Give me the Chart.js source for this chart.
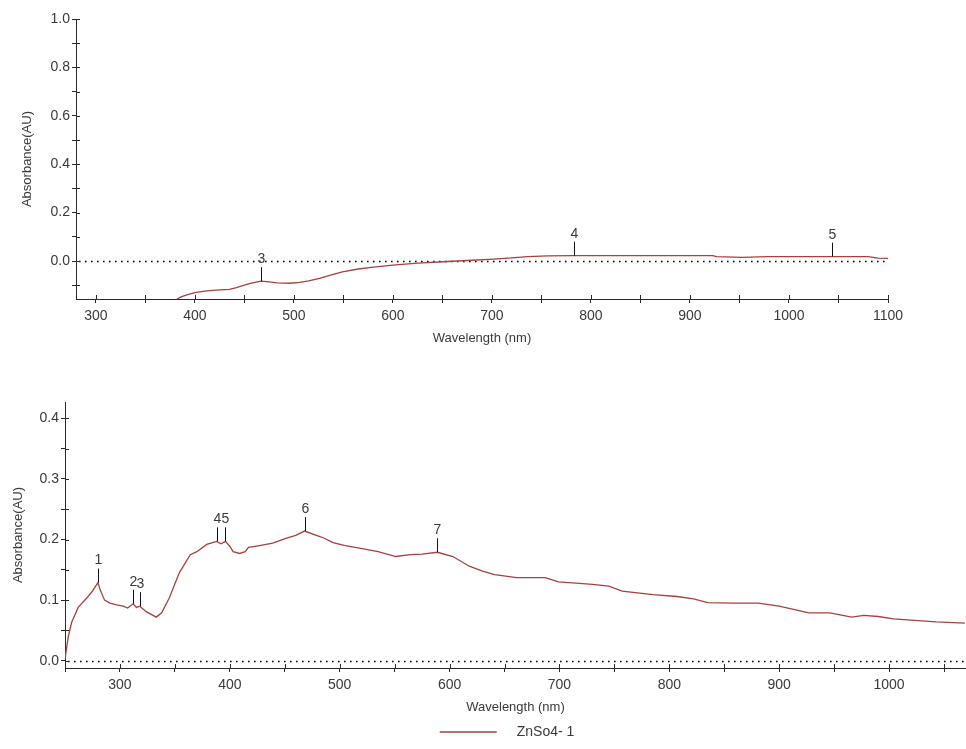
<!DOCTYPE html>
<html>
<head>
<meta charset="utf-8">
<script src="https://cdn.jsdelivr.net/npm/chart.js@4/dist/chart.umd.min.js"></script>
<style>
  html, body { margin: 0; padding: 0; background: #fff; }
  body { width: 966px; height: 749px; position: relative; overflow: hidden; }
  canvas { position: absolute; left: 0; }
  #top { top: 0; }
  #bottom { top: 360px; }
</style>
</head>
<body>
<canvas id="top" width="966" height="350"></canvas>
<canvas id="bottom" width="966" height="389"></canvas>
<script>
// upper spectrum (280-1100 nm)
const topNm = [382, 386, 392, 400, 412, 425, 435, 442, 450, 456, 462, 467, 475, 483, 496, 506, 515, 526, 537, 549,
  565, 580, 600, 625, 651, 675, 702, 720, 736, 757, 783, 820, 870, 923, 927, 953, 978, 1010, 1043, 1080, 1090, 1100];
const topAbs = [-0.157, -0.148, -0.14, -0.131, -0.123, -0.119, -0.117, -0.11, -0.1, -0.092, -0.087, -0.083, -0.086, -0.09, -0.092, -0.088, -0.082, -0.072, -0.058, -0.045,
  -0.033, -0.025, -0.017, -0.009, -0.003, 0.002, 0.008, 0.013, 0.018, 0.021, 0.022, 0.022, 0.022, 0.022, 0.018, 0.015, 0.018, 0.018, 0.018, 0.018, 0.012, 0.011];
const topPeakNm = [467, 783, 1043];
const topPeakAbs = [-0.083, 0.022, 0.018];
const topPeakLabels = ["3", "4", "5"];

// lower spectrum, ZnSo4- 1
const botNm = [250, 253, 256, 262, 270, 275, 280, 282, 286, 291, 297, 303, 307, 312, 315, 318, 324, 333, 338, 345,
  354, 364, 370, 379, 388, 392, 396, 400, 403, 409, 414, 417, 427, 439, 451, 460, 468, 482, 485, 494,
  505, 518, 535, 551, 564, 575, 589, 603, 618, 630, 641, 661, 687, 699, 715, 730, 745, 757, 771, 785,
  807, 822, 835, 860, 881, 900, 927, 946, 966, 977, 990, 1004, 1020, 1043, 1069];
const botAbs = [0.003, 0.04, 0.063, 0.088, 0.104, 0.115, 0.129, 0.117, 0.1, 0.095, 0.092, 0.09, 0.087, 0.094, 0.088, 0.09, 0.081, 0.072, 0.079, 0.104,
  0.145, 0.175, 0.18, 0.192, 0.197, 0.193, 0.197, 0.189, 0.18, 0.177, 0.18, 0.187, 0.19, 0.194, 0.202, 0.207, 0.214, 0.205, 0.203, 0.195,
  0.19, 0.186, 0.18, 0.172, 0.175, 0.176, 0.179, 0.172, 0.156, 0.148, 0.142, 0.137, 0.137, 0.13, 0.128, 0.126, 0.123, 0.115, 0.112, 0.109,
  0.106, 0.102, 0.096, 0.095, 0.095, 0.09, 0.079, 0.079, 0.072, 0.075, 0.073, 0.069, 0.067, 0.064, 0.062];
const botPeakNm = [280, 312, 318, 388, 396, 468, 589];
const botPeakAbs = [0.129, 0.094, 0.09, 0.197, 0.197, 0.214, 0.179];
const botPeakLabels = ["1", "2", "3", "4", "5", "6", "7"];

const seriesName = "ZnSo4- 1";
const xTitle = "Wavelength (nm)";
const yTitle = "Absorbance(AU)";

const lineColor = "#a8403f";
const axisColor = "#2b2b2b";
const textColor = "#3a3a3a";
const fontFamily = "'Liberation Sans', Arial, sans-serif";

Chart.defaults.font.family = fontFamily;
Chart.defaults.font.size = 14;
Chart.defaults.color = textColor;

// tick marks also poke into the plot area, like the instrument software draws them
const innerTicks = {
    id: "innerTicks",
    afterDraw(chart) {
        const ctx = chart.ctx, a = chart.chartArea;
        const xs = chart.scales.x, ys = chart.scales.y;
        ctx.save();
        ctx.strokeStyle = axisColor;
        ctx.lineWidth = 1;
        ctx.beginPath();
        xs.ticks.forEach(t => {
            let px = Math.round(xs.getPixelForValue(t.value)) + 0.5;
            ctx.moveTo(px, a.bottom);
            ctx.lineTo(px, a.bottom - 4);
        });
        ys.ticks.forEach(t => {
            let py = Math.round(ys.getPixelForValue(t.value)) + 0.5;
            ctx.moveTo(a.left, py);
            ctx.lineTo(a.left + 4, py);
        });
        ctx.stroke();
        ctx.restore();
    }
};

// dotted baseline at 0 AU
const zeroLine = {
    id: "zeroLine",
    beforeDatasetsDraw(chart) {
        const ctx = chart.ctx, a = chart.chartArea;
        let y0 = Math.round(chart.scales.y.getPixelForValue(0)) + 0.5;
        ctx.save();
        ctx.strokeStyle = "#000";
        ctx.lineWidth = 1.6;
        ctx.setLineDash([1.6, 4.4]);
        ctx.beginPath();
        ctx.moveTo(a.left + 3, y0);
        ctx.lineTo(a.right, y0);
        ctx.stroke();
        ctx.restore();
    }
};

// numbered peak markers
const peakMarks = {
    id: "peakMarks",
    afterDatasetsDraw(chart, args, opts) {
        if (!opts.nm) return;
        const ctx = chart.ctx;
        const xs = chart.scales.x, ys = chart.scales.y;
        ctx.save();
        ctx.strokeStyle = "#111";
        ctx.lineWidth = 1;
        ctx.fillStyle = textColor;
        ctx.font = "14px " + fontFamily;
        ctx.textAlign = "center";
        ctx.textBaseline = "middle";
        opts.nm.forEach((nm, i) => {
            let px = Math.round(xs.getPixelForValue(nm)) + 0.5;
            let py = ys.getPixelForValue(opts.abs[i]);
            ctx.beginPath();
            ctx.moveTo(px, py);
            ctx.lineTo(px, py - 14);
            ctx.stroke();
            ctx.fillText(opts.labels[i], px, py - 22);
        });
        ctx.restore();
    }
};

// legend swatch: empty lead-in, short line, then a gap before the text
function makeSwatch() {
    let c = document.createElement("canvas");
    c.width = 118;
    c.height = 6;
    let g = c.getContext("2d");
    g.strokeStyle = lineColor;
    g.lineWidth = 1.3;
    g.beginPath();
    g.moveTo(48, 3);
    g.lineTo(105, 3);
    g.stroke();
    return c;
}

function axisX(min, max, height, titlePad) {
    return {
        type: "linear",
        min: min,
        max: max,
        afterFit: s => { s.height = height; },
        border: { display: true, color: axisColor, width: 1 },
        grid: { drawOnChartArea: false, drawTicks: true, tickLength: 4, color: axisColor },
        ticks: {
            stepSize: 50,
            includeBounds: false,
            autoSkip: false,
            maxRotation: 0,
            maxTicksLimit: 100,
            padding: 5,
            color: textColor,
            font: { size: 14 },
            callback: v => (v % 100 === 0 ? String(v) : "")
        },
        title: { display: true, text: xTitle, color: textColor, font: { size: 13 }, padding: { top: 0, bottom: titlePad } }
    };
}

function axisY(min, max, step, labelEvery, width, titlePad) {
    return {
        type: "linear",
        min: min,
        max: max,
        afterFit: s => { s.width = width; },
        border: { display: true, color: axisColor, width: 1 },
        grid: { drawOnChartArea: false, drawTicks: true, tickLength: 4, color: axisColor },
        ticks: {
            stepSize: step,
            includeBounds: false,
            autoSkip: false,
            maxTicksLimit: 100,
            padding: 2,
            color: textColor,
            font: { size: 14 },
            callback: v => (Math.round(v / step) % labelEvery === 0 ? v.toFixed(1) : "")
        },
        title: { display: true, text: yTitle, color: textColor, font: { size: 13 }, padding: { top: titlePad, bottom: 0 } }
    };
}

function points(xs, ys) {
    return xs.map((x, i) => ({ x: x, y: ys[i] }));
}

const topChart = new Chart(document.getElementById("top"), {
    type: "line",
    data: {
        datasets: [{
            label: seriesName,
            data: points(topNm, topAbs),
            borderColor: lineColor,
            borderWidth: 1.3,
            pointRadius: 0,
            tension: 0,
            fill: false
        }]
    },
    options: {
        responsive: false,
        animation: false,
        devicePixelRatio: 1,
        layout: { padding: { top: 19, right: 78, bottom: 0, left: 0 } },
        scales: {
            x: axisX(280, 1100, 51, 4),
            y: axisY(-0.157, 1.0, 0.1, 2, 76, 20)
        },
        plugins: {
            legend: { display: false },
            tooltip: { enabled: false },
            peakMarks: { nm: topPeakNm, abs: topPeakAbs, labels: topPeakLabels }
        }
    },
    plugins: [innerTicks, zeroLine, peakMarks]
});

const botChart = new Chart(document.getElementById("bottom"), {
    type: "line",
    data: {
        datasets: [{
            label: seriesName,
            data: points(botNm, botAbs),
            borderColor: lineColor,
            borderWidth: 1.3,
            pointRadius: 0,
            tension: 0,
            fill: false
        }]
    },
    options: {
        responsive: false,
        animation: false,
        devicePixelRatio: 1,
        layout: { padding: { top: 42, right: 0, bottom: 0, left: 0 } },
        scales: {
            x: axisX(250, 1070, 47, 0),
            y: axisY(-0.012, 0.427, 0.05, 2, 65, 11)
        },
        plugins: {
            legend: {
                display: true,
                position: "bottom",
                labels: {
                    usePointStyle: true,
                    pointStyle: makeSwatch(),
                    pointStyleWidth: 118,
                    boxHeight: 6,
                    color: textColor,
                    font: { size: 14 }
                }
            },
            tooltip: { enabled: false },
            peakMarks: { nm: botPeakNm, abs: botPeakAbs, labels: botPeakLabels }
        }
    },
    plugins: [innerTicks, zeroLine, peakMarks]
});
</script>
</body>
</html>
